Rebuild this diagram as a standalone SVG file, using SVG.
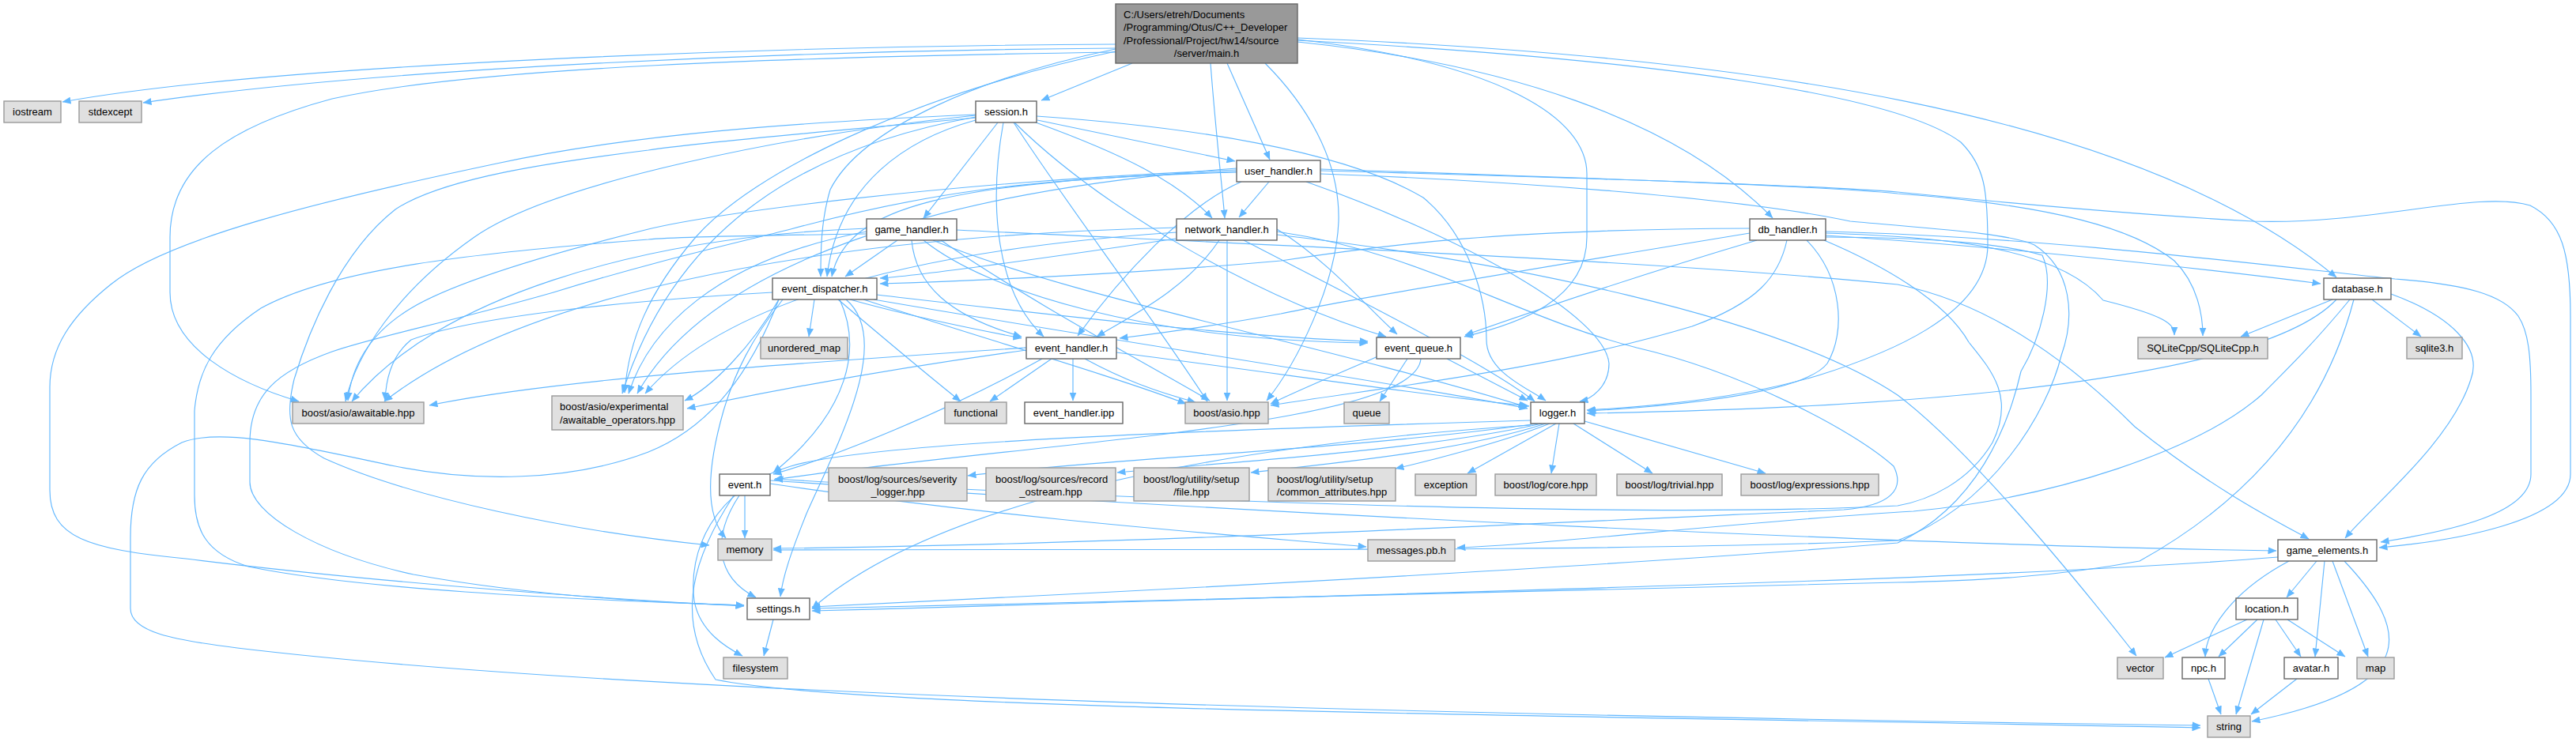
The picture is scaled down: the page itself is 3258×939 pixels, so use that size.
<svg xmlns="http://www.w3.org/2000/svg" width="3258" height="939" viewBox="0 0 3258 939">
<defs>
<style>
.e{fill:none;stroke:#63b8ff;stroke-width:1.15;marker-end:url(#ah)}
.w{fill:#ffffff;stroke:#666666;stroke-width:1.4}
.g{fill:#e0e0e0;stroke:#999999;stroke-width:1.4}
.m{fill:#999999;stroke:#666666;stroke-width:1.4}
text{font-family:"Liberation Sans",Arial,sans-serif;font-size:13px;fill:#000}
.c{text-anchor:middle}
</style>
<marker id="ah" viewBox="0 0 11 9" refX="10.5" refY="4.5" markerWidth="11" markerHeight="9" markerUnits="userSpaceOnUse" orient="auto">
<path d="M0,0 L11,4.5 L0,9 z" fill="#63b8ff"/>
</marker>
</defs>
<rect width="3258" height="939" fill="#ffffff"/>
<g id="edges">
<!-- main.h -->
<path class="e" d="M1411,56 C1000,58 350,80 79,129"/>
<path class="e" d="M1411,61 C1000,64 480,86 181,130"/>
<path class="e" d="M1411,66 C1000,72 600,85 420,125 C290,160 215,210 215,300 L215,370 C215,440 300,485 378,508"/>
<path class="e" d="M1432,80 L1317,127"/>
<path class="e" d="M1552,80 L1606,202"/>
<path class="e" d="M1531,80 C1537,160 1545,230 1549,276"/>
<path class="e" d="M1641,53 C1900,80 2120,150 2242,276"/>
<path class="e" d="M1641,48 C2200,70 2700,140 2955,351"/>
<path class="e" d="M1641,51 C2100,75 2400,120 2480,180 C2510,210 2514,240 2514,310 C2514,400 2380,450 2300,475 C2200,505 2080,515 2007,519"/>
<path class="e" d="M1641,50 C1900,80 2007,150 2007,220 L2007,300 C2007,380 1920,410 1852,426"/>
<path class="e" d="M1411,62 C1250,95 1090,160 1050,240 C1038,280 1038,320 1038,350"/>
<path class="e" d="M1411,65 C1150,120 950,220 880,300 C820,370 795,430 790,497"/>
<path class="e" d="M1600,80 C1650,130 1695,200 1693,280 C1690,360 1640,460 1602,507"/>
<!-- session.h -->
<path class="e" d="M1312,152 L1562,204"/>
<path class="e" d="M1262,155 L1168,276"/>
<path class="e" d="M1310,155 C1420,195 1490,230 1533,276"/>
<path class="e" d="M1234,152 C1150,175 1060,230 1046,350"/>
<path class="e" d="M1269,155 C1250,260 1260,370 1320,426"/>
<path class="e" d="M1283,155 C1400,270 1600,380 1753,426"/>
<path class="e" d="M1311,147 C1500,160 1700,190 1800,250 C1860,300 1880,380 1880,430 C1880,470 1930,490 1955,507"/>
<path class="e" d="M1282,155 C1350,260 1450,390 1527,508"/>
<path class="e" d="M1234,146 C1000,170 700,230 600,300 C500,370 450,450 437,508"/>
<path class="e" d="M1234,148 C1000,190 850,300 787,498"/>
<path class="e" d="M1234,145 C1000,155 800,170 628,207 C400,255 209,303 140,360 C90,400 63,440 63,490 L63,620 C63,680 110,695 235,707 C500,740 800,760 941,767"/>
<path class="e" d="M1234,149 C1100,162 900,178 820,190 C700,205 560,225 500,265 C430,320 390,420 372,480 C360,530 365,555 410,580 C520,630 720,672 897,690"/>
<!-- user_handler.h -->
<path class="e" d="M1605,230 L1567,275"/>
<path class="e" d="M1564,217 C1200,230 1070,260 1052,350"/>
<path class="e" d="M1570,230 C1500,260 1417,350 1363,425"/>
<path class="e" d="M1652,230 C1850,300 2030,400 2035,460 C2035,490 2012,505 1998,508"/>
<path class="e" d="M1564,215 C1200,230 900,270 820,290 C700,320 575,357 520,390 C470,420 445,460 440,507"/>
<path class="e" d="M1564,213 C1200,240 900,330 806,498"/>
<path class="e" d="M1670,214 C2000,225 2300,235 2400,245 C2600,260 2700,290 2750,330 C2780,360 2786,400 2786,425"/>
<path class="e" d="M1670,216 C2000,225 2300,235 2400,243 C2550,258 2728,273 2849,280 C3000,285 3133,240 3200,260 C3240,280 3251,320 3251,400 L3251,600 C3251,660 3100,685 3009,693"/>
<path class="e" d="M1564,218 C1300,225 1166,245 1000,290 C900,315 820,333 700,370 C560,410 470,427 420,445 C350,470 316,500 316,560 L316,610 C316,650 400,700 523,727 C650,750 800,762 941,766"/>
<path class="e" d="M1670,220 C1900,228 2200,250 2340,280 C2450,290 2540,295 2573,310 C2620,340 2625,400 2607,450 C2590,520 2520,640 2400,684 C2000,700 1400,694 978,696"/>
<!-- network_handler.h -->
<path class="e" d="M1487,302 C1300,330 1150,350 1113,352"/>
<path class="e" d="M1542,304 C1500,367 1430,400 1387,426"/>
<path class="e" d="M1615,290 C1680,330 1730,390 1767,423"/>
<path class="e" d="M1573,304 C1700,370 1880,460 1941,508"/>
<path class="e" d="M1552,304 L1552,507"/>
<path class="e" d="M1488,288 C1000,300 650,380 486,508"/>
<path class="e" d="M1488,294 C1100,320 900,400 816,498"/>
<path class="e" d="M1615,293 C1800,320 1914,400 2070,440 C2200,470 2343,543 2395,590 C2410,620 2390,640 2332,645 C2000,660 1400,690 978,694"/>
<path class="e" d="M1615,297 C1900,330 2250,400 2400,500 C2480,560 2600,700 2702,830"/>
<!-- game_handler.h -->
<path class="e" d="M1135,304 L1069,350"/>
<path class="e" d="M1153,304 C1158,360 1200,400 1292,426"/>
<path class="e" d="M1168,304 C1250,370 1450,430 1730,434"/>
<path class="e" d="M1180,304 C1350,375 1650,430 1931,515"/>
<path class="e" d="M1190,304 C1300,380 1450,460 1530,507"/>
<path class="e" d="M1096,289 C800,300 550,380 445,508"/>
<path class="e" d="M1096,293 C900,330 820,420 795,498"/>
<path class="e" d="M1210,291 C1600,310 2100,330 2400,360 C2500,380 2600,440 2700,540 C2800,620 2880,660 2920,682"/>
<path class="e" d="M1096,296 C950,298 850,300 820,303 C600,320 420,340 330,390 C270,430 250,470 246,520 L246,627 C246,670 260,700 314,717 C450,745 700,758 941,766"/>
<!-- db_handler.h -->
<path class="e" d="M2213,289 C1900,290 1750,310 1620,330 C1450,345 1250,355 1113,359"/>
<path class="e" d="M2213,295 C2000,330 1700,380 1620,397 C1550,410 1480,420 1416,428"/>
<path class="e" d="M2222,304 C2100,340 1950,390 1853,424"/>
<path class="e" d="M2285,304 C2330,350 2335,420 2311,460 C2280,500 2100,515 2008,520"/>
<path class="e" d="M2260,304 C2250,350 2223,383 2140,413 C1950,470 1750,490 1607,513"/>
<path class="e" d="M2309,298 C2500,310 2750,335 2935,359"/>
<path class="e" d="M2309,295 C2450,300 2600,310 2660,380 C2740,400 2750,410 2750,424"/>
<path class="e" d="M2309,293 C2600,300 2900,340 3029,353 C3120,360 3165,373 3185,400 C3198,420 3201,450 3201,500 L3201,600 C3201,650 3100,672 3011,686"/>
<path class="e" d="M2307,304 C2380,335 2460,380 2490,433 C2520,470 2548,503 2520,560 C2490,610 2440,633 2400,640 C2000,660 1200,620 980,606"/>
<path class="e" d="M2309,300 C2450,300 2540,310 2583,323 C2600,360 2580,430 2556,470 C2540,540 2500,640 2400,687 C2000,720 1400,750 1027,768"/>
<!-- event_dispatcher.h -->
<path class="e" d="M1030,379 L1023,426"/>
<path class="e" d="M1075,379 C1150,400 1250,420 1292,428"/>
<path class="e" d="M1109,373 C1300,395 1550,425 1730,432"/>
<path class="e" d="M1105,379 C1400,430 1800,490 1932,517"/>
<path class="e" d="M1092,379 C1250,430 1420,480 1500,511"/>
<path class="e" d="M1060,379 C1120,430 1180,480 1215,508"/>
<path class="e" d="M1062,379 C1090,440 1075,520 978,598"/>
<path class="e" d="M977,370 C800,380 600,400 520,430 C495,450 488,480 487,507"/>
<path class="e" d="M985,379 C950,440 900,490 866,507"/>
<path class="e" d="M990,379 C950,430 930,470 915,520 C895,590 890,650 918,681"/>
<path class="e" d="M985,379 C950,470 900,540 820,572 C720,610 600,610 500,590 C380,565 280,540 230,560 C180,585 165,620 165,680 L165,770 C165,800 220,810 300,820 C800,880 1800,905 2783,918"/>
<path class="e" d="M1070,379 C1130,430 1060,560 1020,650 C1000,700 990,730 987,755"/>
<!-- event_handler.h -->
<path class="e" d="M1357,454 L1357,507"/>
<path class="e" d="M1330,454 L1252,508"/>
<path class="e" d="M1372,454 C1420,480 1460,495 1512,509"/>
<path class="e" d="M1412,446 C1600,470 1800,500 1934,514"/>
<path class="e" d="M1318,454 C1200,520 1050,580 978,600"/>
<path class="e" d="M1298,440 C1000,460 700,480 543,513"/>
<path class="e" d="M1298,443 C1100,470 950,500 869,517"/>
<!-- event_queue.h -->
<path class="e" d="M1780,454 L1745,508"/>
<path class="e" d="M1745,450 C1700,470 1650,490 1607,511"/>
<path class="e" d="M1797,454 C1790,540 1300,560 979,607"/>
<path class="e" d="M1830,454 L1932,507"/>
<!-- logger.h -->
<path class="e" d="M1945,536 C1700,570 1400,580 1224,602"/>
<path class="e" d="M1950,536 C1800,570 1550,585 1413,598"/>
<path class="e" d="M1955,536 C1850,570 1700,585 1582,598"/>
<path class="e" d="M1960,536 C1900,560 1800,585 1765,593"/>
<path class="e" d="M1968,536 L1856,599"/>
<path class="e" d="M1972,536 L1962,599"/>
<path class="e" d="M1990,536 L2090,599"/>
<path class="e" d="M2004,533 L2233,599"/>
<path class="e" d="M1936,532 C1500,545 1100,560 1000,590 C900,620 870,700 878,760 C885,800 920,820 939,830"/>
<path class="e" d="M1936,538 C1600,560 1200,620 1027,770"/>
<!-- event.h -->
<path class="e" d="M942,627 L942,681"/>
<path class="e" d="M935,627 C900,680 905,730 956,756"/>
<path class="e" d="M974,612 C1300,660 1600,680 1728,692"/>
<path class="e" d="M974,608 C1600,650 2400,690 2879,697"/>
<path class="e" d="M928,627 C880,700 850,780 905,860 C1100,900 2000,905 2783,921"/>
<!-- settings.h -->
<path class="e" d="M978,784 L966,830"/>
<!-- database.h -->
<path class="e" d="M2950,379 L2834,426"/>
<path class="e" d="M3000,379 L3062,426"/>
<path class="e" d="M2955,379 C2870,470 2500,515 2007,523"/>
<path class="e" d="M2972,379 C2930,430 2900,460 2860,500 C2780,570 2600,630 2420,647 C2200,660 1950,690 1843,693"/>
<path class="e" d="M3024,372 C3100,400 3140,440 3125,480 C3100,560 3000,640 2966,681"/>
<path class="e" d="M2977,379 C2940,520 2850,630 2706,710 C2600,730 2500,735 2400,737 C2000,745 1500,760 1027,770"/>
<!-- game_elements.h -->
<path class="e" d="M2930,710 L2892,756"/>
<path class="e" d="M2895,710 C2820,750 2790,800 2789,831"/>
<path class="e" d="M2940,710 L2928,831"/>
<path class="e" d="M2950,710 L2995,831"/>
<path class="e" d="M2965,710 C3050,800 3060,870 2848,913"/>
<path class="e" d="M2881,705 C2600,728 2200,740 1027,773"/>
<!-- location.h -->
<path class="e" d="M2842,784 L2738,832"/>
<path class="e" d="M2855,784 L2806,831"/>
<path class="e" d="M2863,784 L2828,904"/>
<path class="e" d="M2878,784 L2910,831"/>
<path class="e" d="M2893,784 L2966,831"/>
<!-- npc.h / avatar.h -->
<path class="e" d="M2793,859 L2809,904"/>
<path class="e" d="M2905,859 L2847,904"/>
</g>
<g id="n_main"><rect class="m" x="1411" y="5" width="230" height="75"/>
<text x="1421" y="23">C:/Users/etreh/Documents</text>
<text x="1421" y="39">/Programming/Otus/C++_Developer</text>
<text x="1421" y="56">/Professional/Project/hw14/source</text>
<text class="c" x="1526" y="72">/server/main.h</text></g>
<g id="n_iostream"><rect class="g" x="5" y="128" width="72" height="27"/><text class="c" x="41" y="146">iostream</text></g>
<g id="n_stdexcept"><rect class="g" x="100" y="128" width="79" height="27"/><text class="c" x="139.5" y="146">stdexcept</text></g>
<g id="n_session"><rect class="w" x="1234" y="128" width="77" height="27"/><text class="c" x="1272.5" y="146">session.h</text></g>
<g id="n_user_handler"><rect class="w" x="1564" y="203" width="106" height="27"/><text class="c" x="1617" y="221">user_handler.h</text></g>
<g id="n_game_handler"><rect class="w" x="1096" y="277" width="114" height="27"/><text class="c" x="1153" y="295">game_handler.h</text></g>
<g id="n_network_handler"><rect class="w" x="1488" y="277" width="127" height="27"/><text class="c" x="1551.5" y="295">network_handler.h</text></g>
<g id="n_db_handler"><rect class="w" x="2213" y="277" width="96" height="27"/><text class="c" x="2261" y="295">db_handler.h</text></g>
<g id="n_event_dispatcher"><rect class="w" x="977" y="352" width="132" height="27"/><text class="c" x="1043" y="370">event_dispatcher.h</text></g>
<g id="n_database"><rect class="w" x="2939" y="352" width="85" height="27"/><text class="c" x="2981.5" y="370">database.h</text></g>
<g id="n_unordered_map"><rect class="g" x="962" y="427" width="110" height="27"/><text class="c" x="1017" y="445">unordered_map</text></g>
<g id="n_event_handler"><rect class="w" x="1298" y="427" width="114" height="27"/><text class="c" x="1355" y="445">event_handler.h</text></g>
<g id="n_event_queue"><rect class="w" x="1741" y="427" width="106" height="27"/><text class="c" x="1794" y="445">event_queue.h</text></g>
<g id="n_sqlitecpp"><rect class="g" x="2704" y="427" width="164" height="27"/><text class="c" x="2786" y="445">SQLiteCpp/SQLiteCpp.h</text></g>
<g id="n_sqlite3"><rect class="g" x="3044" y="427" width="70" height="27"/><text class="c" x="3079" y="445">sqlite3.h</text></g>
<g id="n_awaitable"><rect class="g" x="370" y="509" width="166" height="27"/><text class="c" x="453" y="527">boost/asio/awaitable.hpp</text></g>
<g id="n_experimental"><rect class="g" x="698" y="501" width="166" height="43"/><text x="708" y="519">boost/asio/experimental</text><text class="c" x="781" y="536">/awaitable_operators.hpp</text></g>
<g id="n_functional"><rect class="g" x="1195" y="509" width="78" height="27"/><text class="c" x="1234" y="527">functional</text></g>
<g id="n_event_handler_ipp"><rect class="w" x="1296" y="509" width="124" height="27"/><text class="c" x="1358" y="527">event_handler.ipp</text></g>
<g id="n_asio"><rect class="g" x="1499" y="509" width="105" height="27"/><text class="c" x="1551.5" y="527">boost/asio.hpp</text></g>
<g id="n_queue"><rect class="g" x="1700" y="509" width="57" height="27"/><text class="c" x="1728.5" y="527">queue</text></g>
<g id="n_logger"><rect class="w" x="1936" y="509" width="68" height="27"/><text class="c" x="1970" y="527">logger.h</text></g>
<g id="n_event"><rect class="w" x="910" y="600" width="64" height="27"/><text class="c" x="942" y="618">event.h</text></g>
<g id="n_severity"><rect class="g" x="1048" y="592" width="175" height="42"/><text x="1060" y="611">boost/log/sources/severity</text><text class="c" x="1135.5" y="627">_logger.hpp</text></g>
<g id="n_record"><rect class="g" x="1247" y="592" width="164" height="42"/><text x="1259" y="611">boost/log/sources/record</text><text class="c" x="1329" y="627">_ostream.hpp</text></g>
<g id="n_file"><rect class="g" x="1434" y="592" width="146" height="42"/><text x="1446" y="611">boost/log/utility/setup</text><text class="c" x="1507" y="627">/file.hpp</text></g>
<g id="n_common"><rect class="g" x="1604" y="592" width="161" height="42"/><text x="1615" y="611">boost/log/utility/setup</text><text class="c" x="1684.5" y="627">/common_attributes.hpp</text></g>
<g id="n_exception"><rect class="g" x="1790" y="600" width="77" height="27"/><text class="c" x="1828.5" y="618">exception</text></g>
<g id="n_core"><rect class="g" x="1891" y="600" width="128" height="27"/><text class="c" x="1955" y="618">boost/log/core.hpp</text></g>
<g id="n_trivial"><rect class="g" x="2045" y="600" width="133" height="27"/><text class="c" x="2111.5" y="618">boost/log/trivial.hpp</text></g>
<g id="n_expressions"><rect class="g" x="2202" y="600" width="174" height="27"/><text class="c" x="2289" y="618">boost/log/expressions.hpp</text></g>
<g id="n_memory"><rect class="g" x="908" y="682" width="68" height="27"/><text class="c" x="942" y="700">memory</text></g>
<g id="n_messages"><rect class="g" x="1730" y="683" width="110" height="27"/><text class="c" x="1785" y="701">messages.pb.h</text></g>
<g id="n_game_elements"><rect class="w" x="2881" y="683" width="125" height="27"/><text class="c" x="2943.5" y="701">game_elements.h</text></g>
<g id="n_settings"><rect class="w" x="945" y="757" width="79" height="27"/><text class="c" x="984.5" y="775">settings.h</text></g>
<g id="n_location"><rect class="w" x="2828" y="757" width="78" height="27"/><text class="c" x="2867" y="775">location.h</text></g>
<g id="n_filesystem"><rect class="g" x="915" y="832" width="81" height="27"/><text class="c" x="955.5" y="850">filesystem</text></g>
<g id="n_vector"><rect class="g" x="2678" y="832" width="58" height="27"/><text class="c" x="2707" y="850">vector</text></g>
<g id="n_npc"><rect class="w" x="2760" y="832" width="54" height="27"/><text class="c" x="2787" y="850">npc.h</text></g>
<g id="n_avatar"><rect class="w" x="2889" y="832" width="68" height="27"/><text class="c" x="2923" y="850">avatar.h</text></g>
<g id="n_map"><rect class="g" x="2981" y="832" width="47" height="27"/><text class="c" x="3004.5" y="850">map</text></g>
<g id="n_string"><rect class="g" x="2792" y="906" width="54" height="27"/><text class="c" x="2819" y="924">string</text></g>
</svg>
